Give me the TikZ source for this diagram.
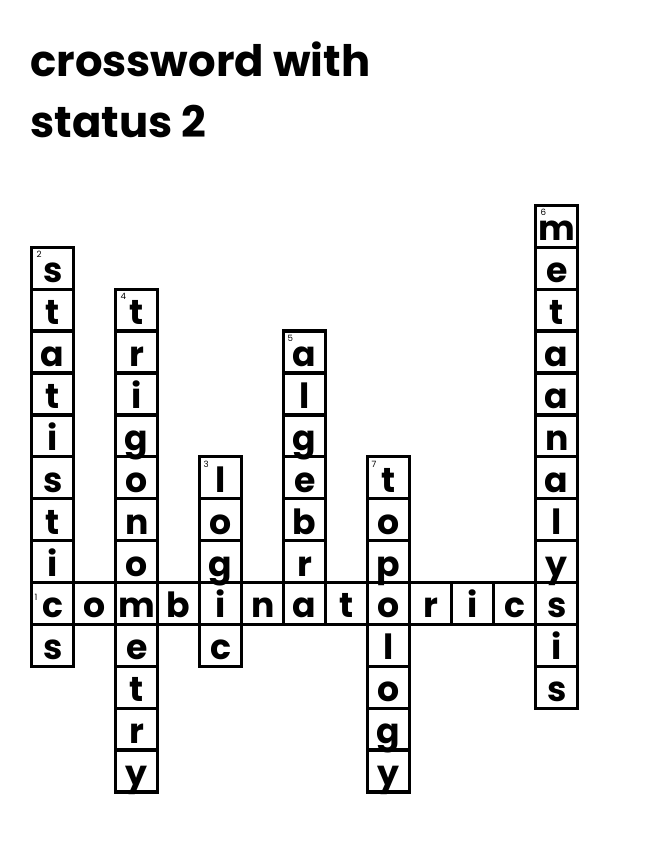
\documentclass[tikz,border=0pt]{standalone}
\usepackage{fontspec}
\setmainfont{Poppins}
\begin{document}
\begin{tikzpicture}[x=0.75pt,y=-0.75pt,
  cellbox/.style={draw=black, line width=2.5pt, rectangle, minimum width=31.5pt, minimum height=31.4pt, inner sep=0pt, outer sep=0pt, text height=21.75pt, text depth=0pt, font=\fontsize{26}{26}\selectfont\bfseries},
  numlabel/.style={inner sep=0pt, outer sep=0pt, anchor=north west, font=\fontsize{6.5}{6.5}\selectfont},
  titletext/.style={inner sep=0pt, anchor=base west, font=\fontsize{32.5}{32.5}\selectfont\bfseries}]
\useasboundingbox (0,0) rectangle (645,862);
\node[titletext] (title1) at (30,77) {crossword with};
\node[titletext] (title2) at (30,138) {status 2};
% combinatorics (row 0) and the down words
\foreach \c/\r/\ch in {0/0/c,1/0/o,2/0/m,3/0/b,4/0/i,5/0/n,6/0/a,7/0/t,8/0/o,9/0/r,10/0/i,11/0/c,12/0/s,
  0/-8/s,0/-7/t,0/-6/a,0/-5/t,0/-4/i,0/-3/s,0/-2/t,0/-1/i,0/1/s,
  2/-7/t,2/-6/r,2/-5/i,2/-4/g,2/-3/o,2/-2/n,2/-1/o,2/1/e,2/2/t,2/3/r,2/4/y,
  4/-3/l,4/-2/o,4/-1/g,4/1/c,
  6/-6/a,6/-5/l,6/-4/g,6/-3/e,6/-2/b,6/-1/r,
  8/-3/t,8/-2/o,8/-1/p,8/1/l,8/2/o,8/3/g,8/4/y,
  12/-9/m,12/-8/e,12/-7/t,12/-6/a,12/-5/a,12/-4/n,12/-3/a,12/-2/l,12/-1/y,12/1/i,12/2/s}
  \node[cellbox] (cell-\c-\r) at ({52.7+42*\c},{603.45+41.9*\r}) {\ch};
\node[numlabel] (num1) at ([shift={(3,12)}]cell-0-0.north west) {1};
\node[numlabel] (num2) at ([shift={(5,4)}]cell-0--8.north west) {2};
\node[numlabel] (num3) at ([shift={(4,4)}]cell-4--3.north west) {3};
\node[numlabel] (num4) at ([shift={(5,4)}]cell-2--7.north west) {4};
\node[numlabel] (num5) at ([shift={(4,4)}]cell-6--6.north west) {5};
\node[numlabel] (num6) at ([shift={(5,4)}]cell-12--9.north west) {6};
\node[numlabel] (num7) at ([shift={(4,4)}]cell-8--3.north west) {7};
\end{tikzpicture}
\end{document}
